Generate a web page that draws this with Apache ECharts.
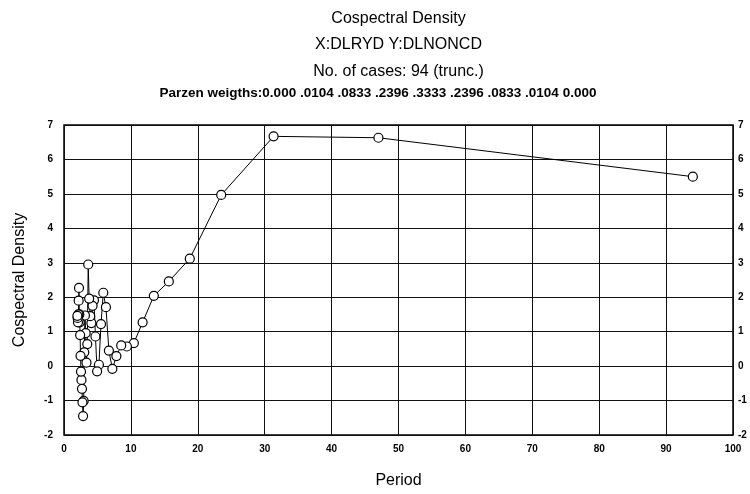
<!DOCTYPE html>
<html>
<head>
<meta charset="utf-8">
<script src="https://cdn.jsdelivr.net/npm/echarts@6/dist/echarts.min.js"></script>
<style>html,body{margin:0;padding:0;background:#fff}#c{width:750px;height:494px}</style>
</head>
<body>
<div id="c"></div>
<script>
const titleLines = ["Cospectral Density", "X:DLRYD Y:DLNONCD", "No. of cases: 94 (trunc.)"];
const subtitle = "Parzen weigths:0.000 .0104 .0833 .2396 .3333 .2396 .0833 .0104 0.000";
const xName = "Period";
const yName = "Cospectral Density";
const xTicks = [0, 10, 20, 30, 40, 50, 60, 70, 80, 90, 100];
const yTicks = [-2, -1, 0, 1, 2, 3, 4, 5, 6, 7];
const periods = [94, 47, 31.33, 23.5, 18.8, 15.67, 13.43, 11.75, 10.44, 9.4, 8.55, 7.83, 7.23, 6.71, 6.27, 5.875, 5.53, 5.22, 4.95, 4.7, 4.48, 4.27, 4.09, 3.92, 3.76, 3.62, 3.48, 3.36, 3.24, 3.13, 3.03, 2.94, 2.85, 2.76, 2.69, 2.61, 2.54, 2.47, 2.41, 2.35, 2.29, 2.24, 2.19, 2.14, 2.09, 2.04, 2.0];
const density = [5.5, 6.63, 6.67, 4.97, 3.12, 2.46, 2.04, 1.27, 0.67, 0.57, 0.6, 0.29, -0.08, 0.45, 1.71, 2.13, 1.22, 0.04, -0.15, 0.86, 1.91, 1.75, 1.25, 1.45, 1.96, 2.95, 0.64, 0.1, 0.96, 1.47, 0.4, -1.01, -1.45, -1.05, -0.66, -0.4, -0.16, 0.3, 0.9, 1.27, 1.5, 2.27, 1.9, 1.5, 1.27, 1.4, 1.46];

const chart = echarts.init(document.getElementById('c'), null, {renderer: 'canvas'});
const F = 'Liberation Sans, Arial, sans-serif';
const tickLbl = {fontFamily: F, fontWeight: 'bold', fontSize: 10, color: '#000'};
const gridL = 64, gridR = 17, gridT = 125, gridB = 57;
const cx = gridL + (750 - gridL - gridR) / 2;
const tStyle = {fontFamily: F, fontSize: 16, fontWeight: 'normal', color: '#000'};
chart.setOption({
  animation: false,
  backgroundColor: '#fff',
  title: [
    {text: titleLines[0], left: cx, top: 11, padding: 0, textAlign: 'center', textStyle: tStyle},
    {text: titleLines[1], left: cx, top: 37, padding: 0, textAlign: 'center', textStyle: tStyle},
    {text: titleLines[2], left: cx, top: 64, padding: 0, textAlign: 'center', textStyle: tStyle},
    {text: subtitle, left: 378, top: 86, padding: 0, textAlign: 'center', textStyle: {fontFamily: F, fontSize: 13.5, fontWeight: 'bold', color: '#000'}}
  ],
  grid: {left: gridL, right: gridR, top: gridT, bottom: gridB, show: true, borderColor: '#000', borderWidth: 1.5},
  xAxis: {
    type: 'value', min: xTicks[0], max: xTicks[xTicks.length - 1], interval: 10,
    name: xName, nameLocation: 'middle', nameGap: 38,
    nameTextStyle: {fontFamily: F, fontSize: 16, color: '#000'},
    axisLine: {show: false}, axisTick: {show: false},
    axisLabel: Object.assign({margin: 9}, tickLbl),
    splitLine: {show: true, lineStyle: {color: '#111', width: 1}}
  },
  yAxis: [
    {
      type: 'value', min: yTicks[0], max: yTicks[yTicks.length - 1], interval: 1,
      name: yName, nameLocation: 'middle', nameGap: 36,
      nameTextStyle: {fontFamily: F, fontSize: 16, color: '#000'},
      axisLine: {show: false}, axisTick: {show: false},
      axisLabel: Object.assign({margin: 11}, tickLbl),
      splitLine: {show: true, lineStyle: {color: '#111', width: 1}}
    },
    {
      type: 'value', position: 'right', min: yTicks[0], max: yTicks[yTicks.length - 1], interval: 1,
      axisLine: {show: false}, axisTick: {show: false},
      axisLabel: Object.assign({margin: 5}, tickLbl),
      splitLine: {show: false}
    }
  ],
  series: [{
    type: 'line',
    data: periods.map((p, i) => [p, density[i]]),
    symbol: 'circle', symbolSize: 9,
    itemStyle: {color: '#fff', borderColor: '#000', borderWidth: 1.2},
    lineStyle: {color: '#000', width: 1},
    z: 5
  }]
});
</script>
</body>
</html>
